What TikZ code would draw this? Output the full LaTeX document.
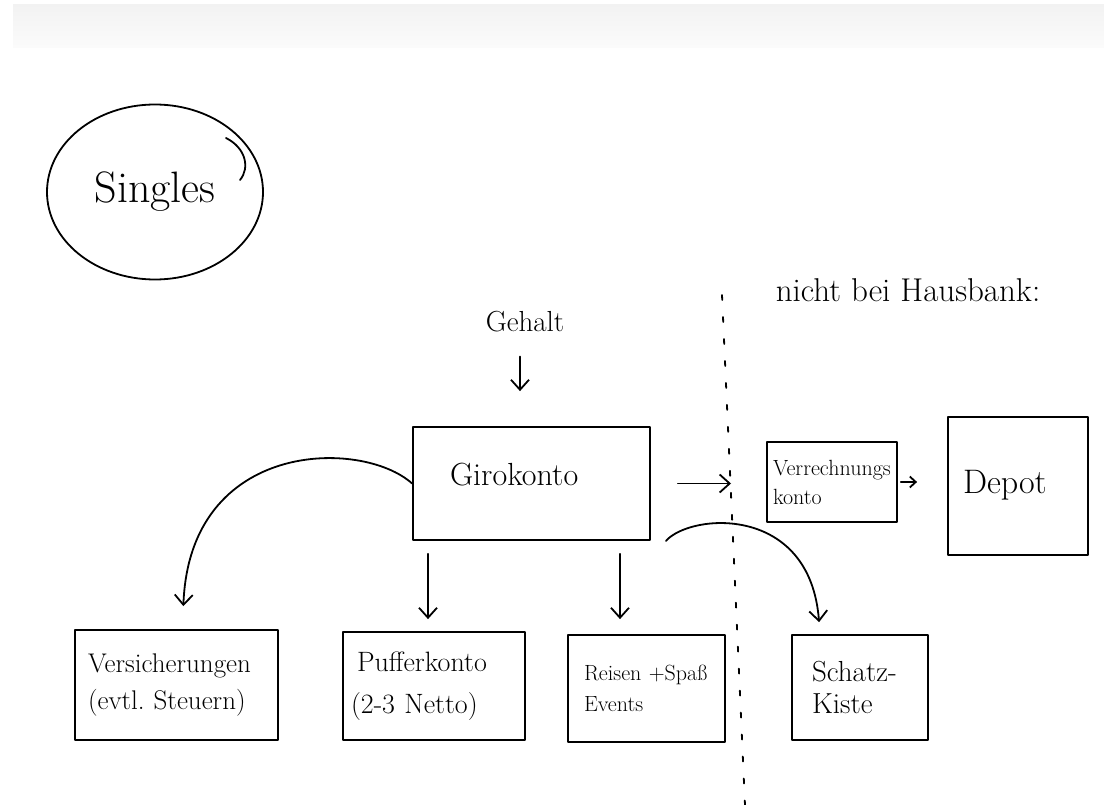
\documentclass[tikz,border=0pt]{standalone}
\usetikzlibrary{arrows.meta,shapes.geometric,calc}
\newcommand\fsz[2]{\fontsize{#1}{#2}\selectfont}
\begin{document}
\begin{tikzpicture}[x=1pt,y=-1pt,
  ln/.style={line width=1.8pt, line cap=round, line join=round},
  box/.style={draw, ln, align=left, inner ysep=0pt},
  txt/.style={inner sep=0pt},
  arr/.style={ln, -{Straight Barb[length=10pt,width=18pt]}},
  sarr/.style={ln, -{Straight Barb[length=6pt,width=11pt]}}]
\useasboundingbox (0,0) rectangle (1104,805);
\fill[white] (0,0) rectangle (1104,805);
\shade[top color=black!5, bottom color=black!1.5] (13,5) rectangle (1104,48);

% title ellipse
\node[draw, ln, ellipse, minimum width=216pt, minimum height=175pt, font=\fsz{44}{50}] (singles) at (155,192) {Singles};
\draw[ln] (226,138) .. controls (246,148) and (250,168) .. (240,180);

% header texts
\node[txt, font=\fsz{33}{38}] (hausbank) at (908,290) {nicht bei Hausbank:};
\node[txt, font=\fsz{29}{34}] (gehalt) at (525,322) {Gehalt};

% dashed divider
\draw[ln, dash pattern=on 5pt off 17pt] (722,295) -- (745,805);

% boxes
\node[box, minimum height=113pt, inner xsep=37pt, text width=163pt, font=\fsz{32}{36}] (giro) at (531.5,483.5) {\raisebox{18pt}{Girokonto}};
\node[box, minimum height=80pt, inner xsep=6pt, text width=118pt, font=\fsz{22}{29}] (verr) at (832,482) {Verrechnungs\\konto};
\node[box, minimum height=138pt, inner xsep=15pt, text width=110pt, font=\fsz{34}{38}] (depot) at (1018,486) {\raisebox{8pt}{Depot}};
\node[box, minimum height=110pt, inner xsep=13pt, text width=177pt, font=\fsz{27}{37}] (vers) at (176.5,685) {Versicherungen\\(evtl.\ Steuern)};
\node[box, minimum height=108pt, inner xsep=8pt, text width=166pt, font=\fsz{28}{42}] (puff) at (434,686) {\hspace*{6pt}Pufferkonto\\(2-3 Netto)};
\node[box, minimum height=107pt, inner xsep=16pt, text width=125pt, font=\fsz{22}{31}] (reis) at (646.5,688.5) {Reisen +Spaß\\Events};
\node[box, minimum height=105pt, inner xsep=20pt, text width=96pt, font=\fsz{29}{32}] (schatz) at (860,687.5) {Schatz-\\Kiste};

\coordinate (giroTip) at (731,483.5);

% connectors
\draw[arr, shorten <=24pt, shorten >=35pt] ([xshift=-5pt]gehalt.south) -- ([xshift=-5pt]gehalt.south |- giro.north);
\draw[arr, shorten <=27pt] (giro.east) -- (giroTip);
\draw[sarr, shorten <=3pt, shorten >=30pt] (verr.east) -- (verr.east -| depot.west);
\draw[arr, shorten >=23pt] (giro.west) .. controls +(-50,-45) and +(7,-190) .. ([xshift=6pt]vers.north);
\draw[arr, shorten <=13pt, shorten >=12pt] ([xshift=-6pt]puff.north |- giro.south) -- ([xshift=-6pt]puff.north);
\draw[arr, shorten <=13pt, shorten >=15pt] ([xshift=-26.5pt]reis.north |- giro.south) -- ([xshift=-26.5pt]reis.north);
\draw[arr, shorten >=12pt] ([xshift=15pt]giro.south east) .. controls +(25,-28) and +(-10,-130) .. ([xshift=-40pt]schatz.north);
\end{tikzpicture}
\end{document}
